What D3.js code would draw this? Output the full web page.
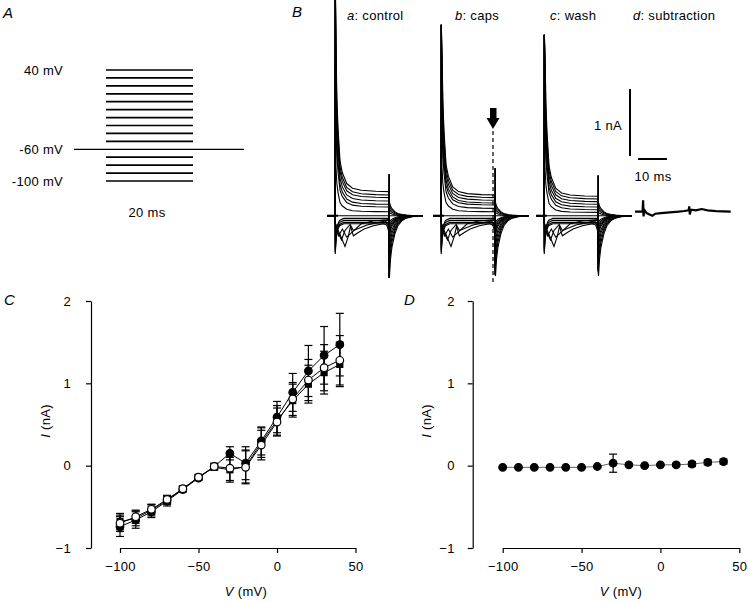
<!DOCTYPE html>
<html><head><meta charset="utf-8">
<script src="https://cdn.jsdelivr.net/npm/d3@7"></script>
<style>
body{margin:0;background:#fff}
svg{display:block}
text{font-family:"Liberation Sans",Arial,Helvetica,sans-serif;fill:#000}
</style>
</head><body>
<svg id="fig" width="750" height="602"></svg>
<script>
// ---------------- DATA ----------------
// Panel A: voltage protocol (mV)
const stepLevels = [40,30,20,10,0,-10,-20,-30,-40,-50,-70,-80,-90,-100];
const holdingLevel = -60;
const protocolLabels = ["40 mV","-60 mV","-100 mV"];
const protocolLabelLevels = [40,-60,-100];

// Panel B: traces (time in ms, current in nA)
const traceVolts = [-100,-90,-80,-70,-60,-50,-40,-30,-20,-10,0,10,20,30,40];
const steadyA = [-0.12,-0.10,-0.07,-0.04,0.00,0.06,null,null,null,0.13,0.17,0.22,0.27,0.31,0.36];
const steadyB = [-0.12,-0.10,-0.07,-0.04,0.00,0.06,null,null,null,0.11,0.16,0.19,0.23,0.27,0.31];
const steadyC = [-0.12,-0.10,-0.07,-0.04,0.00,0.05,null,null,null,0.09,0.13,0.17,0.21,0.25,0.29];
const transientScale = [1,1,1,1,0,0.3,0,0,0,0.55,0.65,0.75,0.85,0.93,1.0];
const tailAmp = [0.20,0.15,0.10,0.05,0.00,-0.10,-0.15,-0.20,-0.25,-0.30,-0.40,-0.50,-0.62,-0.75,-0.90];
const onsetOutward = [[0.05,3.5],[0.3,2.2],[0.6,1.4],[1.0,0.95],[1.7,0.45],[2.5,0.28],[4,0.12],[6,0.05],[9,0.02],[14,0.005],[18.6,0]];
const onsetInward = [[0.05,-0.45],[0.3,-0.25],[0.8,-0.10],[1.5,-0.03],[3,0]];
const tailDecay = [[0.15,1],[0.5,0.72],[1,0.52],[2,0.3],[3,0.17],[4.5,0.08],[6,0.04],[8,0.015],[11.6,0]];
const dipShapes = [
  [[0,-0.1],[0.8,-0.2],[1.7,-0.28],[3.4,-0.46],[4.6,-0.3],[5.3,-0.16],[6.3,-0.3],[8,-0.25],[10,-0.2],[13.2,-0.15],[16.7,-0.12],[17.8,-0.14],[18.4,-0.22],[18.6,-0.18]],
  [[0,-0.1],[1,-0.25],[2.2,-0.36],[3.4,-0.22],[5.2,-0.13],[6.3,-0.22],[8,-0.19],[11,-0.14],[15,-0.1],[17.5,-0.08],[18.4,-0.17],[18.6,-0.15]],
  [[0,-0.1],[1.2,-0.3],[2.5,-0.2],[4,-0.32],[5.5,-0.26],[9,-0.12],[13,-0.08],[18.6,-0.06]]
];
const spikeTop = [3.6, 2.85, 2.7];
const offSpikeUp = [0.62, 0.71, 0.60];
const offSpikeDown = [-0.93, -0.88, -0.83];
const subtraction = [[0,0],[2.6,0],[2.8,0.17],[2.95,-0.07],[3.2,0.03],[4,-0.02],[5,-0.04],[6,-0.06],[7,-0.03],[9,-0.02],[12,-0.01],[15,0],[17,0.01],[18.5,0.02],[18.7,0.08],[18.9,-0.04],[19.3,0.03],[21,0.02],[23,0.04],[25,0.02],[28,0.01],[33,0]];
const traceTitles = [["a",": control"],["b",": caps"],["c",": wash"],["d",": subtraction"]];
const tOn = 2.8, tOff = 21.4, tEnd = 33;

// Panel C & D: I-V data (mV, nA)
const ivVolts = [-100,-90,-80,-70,-60,-50,-40,-30,-20,-10,0,10,20,30,40];
const controlI  = [-0.74,-0.66,-0.56,-0.43,-0.29,-0.15,-0.01,0.15,0.03,0.30,0.59,0.89,1.15,1.34,1.47];
const controlSE = [0.12,0.10,0.07,0.06,0.03,0.03,0.04,0.08,0.20,0.17,0.19,0.23,0.31,0.35,0.38];
const capsI     = [-0.68,-0.64,-0.54,-0.42,-0.28,-0.14,-0.02,-0.05,-0.01,0.28,0.55,0.79,0.99,1.13,1.23];
const capsSE    = [0.10,0.09,0.07,0.05,0.03,0.03,0.03,0.15,0.20,0.18,0.18,0.20,0.23,0.26,0.27];
const washI     = [-0.70,-0.62,-0.53,-0.41,-0.28,-0.14,-0.01,-0.03,-0.02,0.25,0.53,0.81,1.04,1.19,1.28];
const washSE    = [0.10,0.08,0.06,0.05,0.03,0.03,0.03,0.15,0.20,0.18,0.17,0.20,0.25,0.28,0.30];
const diffI     = [-0.02,-0.02,-0.02,-0.02,-0.02,-0.02,-0.01,0.03,0.01,0.00,0.01,0.01,0.02,0.04,0.05];
const diffSE    = [0.01,0.01,0.01,0.01,0.01,0.01,0.01,0.11,0.01,0.01,0.01,0.02,0.03,0.03,0.03];
const xTicks = [-100,-50,0,50];
const yTicks = [-1,0,1,2];

// ---------------- DRAW ----------------
const svg = d3.select("#fig");
const FS = 13;
function txt(x,y,s,opts={}){
  const t = svg.append("text").attr("x",x).attr("y",y).attr("font-size",opts.size||FS)
    .attr("text-anchor",opts.anchor||"start").attr("letter-spacing",opts.ls!==undefined?opts.ls:0.3);
  if(opts.italic) t.attr("font-style","italic");
  t.text(s);
  return t;
}

// panel letters
txt(3,18,"A",{italic:true,size:15,ls:0});
txt(292,17,"B",{italic:true,size:15,ls:0});
txt(4,305,"C",{italic:true,size:15,ls:0});
txt(404,305,"D",{italic:true,size:15,ls:0});

// ---- Panel A ----
const yV = d3.scaleLinear().domain([-100,40]).range([181,70]);
const gA = svg.append("g");
gA.selectAll("line.step").data(stepLevels).enter().append("line")
  .attr("x1",106).attr("x2",193).attr("y1",d=>yV(d)).attr("y2",d=>yV(d))
  .attr("stroke","#000").attr("stroke-width",1.7);
gA.append("line").attr("x1",74).attr("x2",244).attr("y1",yV(holdingLevel)).attr("y2",yV(holdingLevel))
  .attr("stroke","#000").attr("stroke-width",1.3);
protocolLabels.forEach((l,i)=>txt(63,yV(protocolLabelLevels[i])+4.5,l,{anchor:"end"}));
txt(147,217,"20 ms",{anchor:"middle"});

// ---- Panel B ----
const pxMs = 2.9, pxNA = 67;
const starts = [327,433,536,635];
const bases = [215.7,215.7,215.7,211.7];
const line = d3.line();
function buildTrace(i, p, steady){
  const s = steady[i];
  const pts = [[0,0],[tOn,0]];
  let endI;
  if(s===null){
    const shape = dipShapes[i-6];
    shape.forEach(d=>pts.push([tOn+d[0],d[1]]));
    endI = shape[shape.length-1][1];
  } else if(traceVolts[i] < -60){
    onsetInward.forEach(d=>pts.push([tOn+d[0], s + d[1]]));
    pts.push([tOff,s]); endI = s;
  } else if(traceVolts[i] === -60){
    pts.push([tOff,0]); endI = 0;
  } else {
    onsetOutward.forEach((d,k)=>{
      const v = k===0 ? spikeTop[p] : s + d[1]*transientScale[i];
      pts.push([tOn+d[0], v]);
    });
    pts.push([tOff,s]); endI = s;
  }
  const T = tailAmp[i];
  if(T!==0){
    pts.push([tOff+0.03, T>0 ? offSpikeUp[p] : offSpikeDown[p]*Math.min(1,0.55+Math.abs(T))]);
    tailDecay.forEach(d=>pts.push([tOff+d[0], T*d[1]]));
  } else {
    pts.push([tOff+0.02,0]);
  }
  pts.push([tEnd,0]);
  return pts;
}
const steadies = [steadyA, steadyB, steadyC];
[0,1,2].forEach(p=>{
  const xs = d3.scaleLinear().domain([0,1]).range([starts[p], starts[p]+pxMs]);
  const ys = d3.scaleLinear().domain([0,1]).range([bases[p], bases[p]-pxNA]);
  const g = svg.append("g");
  traceVolts.forEach((v,i)=>{
    const pts = buildTrace(i,p,steadies[p]);
    g.append("path").attr("d", line(pts.map(d=>[xs(d[0]),ys(d[1])])))
      .attr("fill","none").attr("stroke","#000").attr("stroke-width",1.1);
  });
  // baseline emphasis
  g.append("line").attr("x1",xs(0)).attr("x2",xs(tOn+1)).attr("y1",ys(0)).attr("y2",ys(0)).attr("stroke","#000").attr("stroke-width",2);
});
// subtraction trace
{
  const xs = d3.scaleLinear().domain([0,1]).range([starts[3], starts[3]+pxMs]);
  const ys = d3.scaleLinear().domain([0,1]).range([bases[3], bases[3]-pxNA]);
  svg.append("path").attr("d", line(subtraction.map(d=>[xs(d[0]),ys(d[1])])))
    .attr("fill","none").attr("stroke","#000").attr("stroke-width",2.2);
}
// titles
const titleX = [347,455,550,633];
traceTitles.forEach((t,i)=>{
  const el = svg.append("text").attr("x",titleX[i]).attr("y",20).attr("font-size",FS).attr("letter-spacing",0.3);
  el.append("tspan").attr("font-style","italic").text(t[0]);
  el.append("tspan").text(t[1]);
});
// scale bars
svg.append("line").attr("x1",630).attr("x2",630).attr("y1",89).attr("y2",89+pxNA).attr("stroke","#000").attr("stroke-width",2);
svg.append("line").attr("x1",638).attr("x2",638+10*pxMs).attr("y1",159).attr("y2",159).attr("stroke","#000").attr("stroke-width",2);
txt(622,130,"1 nA",{anchor:"end"});
txt(653,181,"10 ms",{anchor:"middle"});
// arrow + dashed line in caps
svg.append("rect").attr("x",490).attr("y",108).attr("width",6.5).attr("height",11).attr("fill","#000");
svg.append("path").attr("d","M486.5,118 L499.5,118 L493,129 Z").attr("fill","#000");
svg.append("line").attr("x1",493).attr("x2",493).attr("y1",131).attr("y2",284)
  .attr("stroke","#000").attr("stroke-width",1.2).attr("stroke-dasharray","4,3");

// ---- Panels C & D ----
function ivPanel(x0, x1, yAxisX, padY, series, lineColor){
  const xs = d3.scaleLinear().domain([-100,50]).range([x0,x1]);
  const ys = d3.scaleLinear().domain([-1,2]).range([548,301]);
  const g = svg.append("g");
  const ax = g.append("g").attr("transform",`translate(${yAxisX},0)`)
    .call(d3.axisLeft(ys).tickValues(yTicks).tickFormat(d3.format("d")).tickSize(5).tickSizeOuter(0).tickPadding(padY));
  const bx = g.append("g").attr("transform","translate(0,548)")
    .call(d3.axisBottom(xs).tickValues(xTicks).tickFormat(d3.format("d")).tickSize(5).tickSizeOuter(0).tickPadding(9));
  [ax,bx].forEach(a=>{
    a.selectAll("text").attr("font-size",FS).attr("letter-spacing",0.3).attr("font-family","Liberation Sans, Arial, sans-serif").attr("fill","#000");
    a.selectAll("line,path").attr("stroke","#000").attr("stroke-width",1.2);
  });
  series.forEach(s=>{
    const pts = ivVolts.map((v,i)=>[xs(v),ys(s.y[i])]);
    g.append("path").attr("d",d3.line()(pts)).attr("fill","none").attr("stroke",lineColor).attr("stroke-width",1);
  });
  series.forEach(s=>{
    ivVolts.forEach((v,i)=>{
      const cx = xs(v), lo = ys(s.y[i]-s.se[i]), hi = ys(s.y[i]+s.se[i]);
      g.append("line").attr("x1",cx).attr("x2",cx).attr("y1",lo).attr("y2",hi).attr("stroke","#000").attr("stroke-width",1.2);
      [lo,hi].forEach(yy=>g.append("line").attr("x1",cx-4).attr("x2",cx+4).attr("y1",yy).attr("y2",yy).attr("stroke","#000").attr("stroke-width",1.2));
    });
  });
  series.forEach(s=>{
    ivVolts.forEach((v,i)=>{
      const cx = xs(v), cy = ys(s.y[i]);
      if(s.shape==="square"){
        g.append("rect").attr("x",cx-3.6).attr("y",cy-3.6).attr("width",7.2).attr("height",7.2).attr("fill","#000");
      } else {
        g.append("circle").attr("cx",cx).attr("cy",cy).attr("r",3.8)
          .attr("fill",s.shape==="open"?"#fff":"#000").attr("stroke","#000").attr("stroke-width",1.2);
      }
    });
  });
  return {xs,ys};
}
ivPanel(120,355.5,91,15,[
  {y:capsI,se:capsSE,shape:"square"},
  {y:controlI,se:controlSE,shape:"filled"},
  {y:washI,se:washSE,shape:"open"}
],"#000");
ivPanel(502.7,739.3,472.7,13,[{y:diffI,se:diffSE,shape:"filled"}],"#666");

// axis titles
function yTitle(x){
  const t = svg.append("text").attr("transform",`translate(${x},421) rotate(-90)`).attr("text-anchor","middle").attr("font-size",FS).attr("letter-spacing",0.3);
  t.append("tspan").attr("font-style","italic").text("I");
  t.append("tspan").text(" (nA)");
}
function xTitle(x){
  const t = svg.append("text").attr("x",x).attr("y",596).attr("text-anchor","middle").attr("font-size",FS).attr("letter-spacing",0.3);
  t.append("tspan").attr("font-style","italic").text("V");
  t.append("tspan").text(" (mV)");
}
yTitle(50); yTitle(431);
xTitle(246); xTitle(621);
</script>
</body></html>
